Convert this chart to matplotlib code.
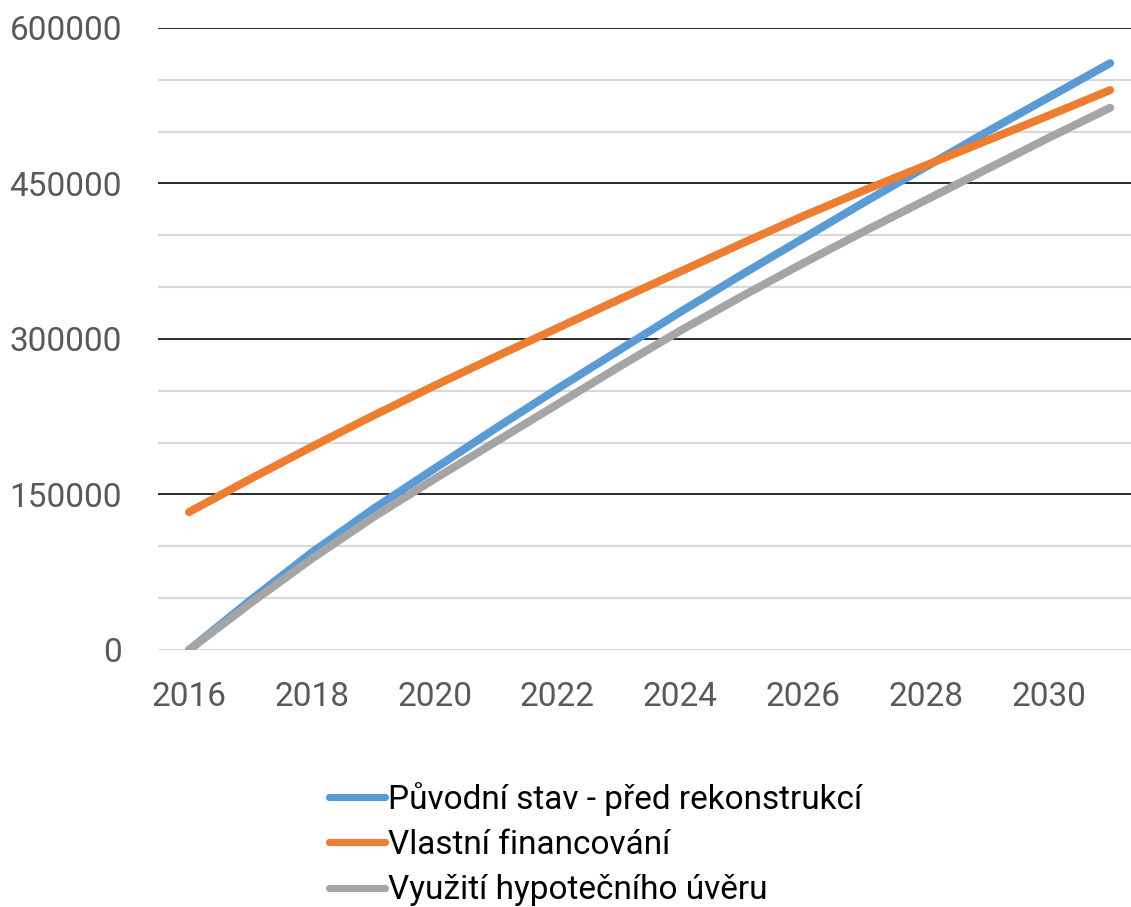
import numpy as np
import matplotlib.pyplot as plt
from matplotlib.lines import Line2D

plt.rcParams['font.family'] = ['Roboto', 'DejaVu Sans']

# roky a kumulované hodnoty pro jednotlivé varianty
years = np.arange(2016, 2032)
puvodni = [0, 48000, 94000, 136000, 175000, 214000, 252000, 289000,
           326000, 362000, 397000, 432000, 466000, 500000, 533000, 566000]
vlastni = [133000, 165000, 196000, 226000, 255000, 283000, 310500, 338000,
           365000, 392000, 418500, 443500, 467500, 491500, 515500, 540000]
hypoteka = [0, 45000, 88000, 128000, 165000, 201000, 237000, 273000,
            308000, 341000, 373000, 404000, 434000, 464000, 494000, 523000]
labels = ['Původní stav - před rekonstrukcí', 'Vlastní financování',
          'Využití hypotečního úvěru']
colors = ['#5B9BD5', '#ED7D31', '#A5A5A5']

fig = plt.figure(figsize=(11.31, 9.07), dpi=100)
ax = fig.add_axes([0.1397, 0.2834, 0.8603, 0.6858])

# mřížka: slabé čáry po 50000, tmavé po 150000
for v in range(0, 600001, 50000):
    if v % 150000 == 0 and v > 0:
        ax.axhline(v, color='#1a1a1a', lw=1.3, zorder=1)
    else:
        ax.axhline(v, color='#d9d9d9', lw=1.6, zorder=1)

for series, c in zip([puvodni, vlastni, hypoteka], colors):
    ax.plot(years, series, color=c, lw=5.8, solid_capstyle='round', zorder=3)

ax.set_xlim(2015.495, 2031.34)
ax.set_ylim(0, 600000)
ax.set_yticks(range(0, 600001, 150000))
ax.set_yticklabels([str(v) for v in range(0, 600001, 150000)])
ax.set_xticks(range(2016, 2031, 2))
ax.tick_params(axis='both', length=0, labelsize=24, labelcolor='#595959')
ax.tick_params(axis='y', pad=26)
ax.tick_params(axis='x', pad=22)
for s in ax.spines.values():
    s.set_visible(False)

handles = [Line2D([], [], color=c, lw=5.2, solid_capstyle='round') for c in colors]
fig.legend(handles, labels, loc='upper left', bbox_to_anchor=(0.291, 0.138),
           frameon=False, fontsize=24, handlelength=1.68, handletextpad=0.1,
           labelspacing=0.4, borderaxespad=0, borderpad=0)

fig.savefig('out.png', dpi=100)
